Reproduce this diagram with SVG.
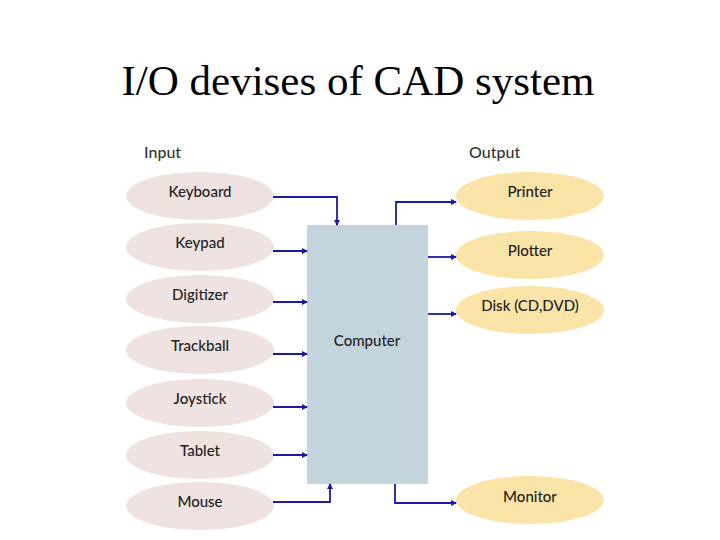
<svg xmlns="http://www.w3.org/2000/svg" width="720" height="540" viewBox="0 0 720 540">
<style>
.t{font-family:"Liberation Serif",serif;font-size:43px;fill:#000}
.l{font-family:"Lato","Liberation Sans",sans-serif;font-size:15px;fill:#222;font-weight:500}
.h{font-family:"Lato","Liberation Sans",sans-serif;font-size:16px;fill:#333;font-weight:500}
.in{fill:#efe3e1}.out{fill:#fbe4a8}
.c{fill:none;stroke:#1a1aa8;stroke-width:1.8;marker-end:url(#a)}
</style>
<defs><marker id="a" markerWidth="6" markerHeight="6" refX="5" refY="3" orient="auto" markerUnits="userSpaceOnUse"><path d="M0,0L6,3L0,6z" fill="#1a1aa8"/></marker></defs>
<rect width="720" height="540" fill="#fff"/>
<text class="t" x="358" y="95" text-anchor="middle">I/O devises of CAD system</text>
<text class="h" x="144" y="158">Input</text>
<text class="h" x="469" y="158">Output</text>
<g id="computer"><rect x="307" y="225" width="121" height="259" fill="#c3d4dc"/><text class="l" x="367" y="346" text-anchor="middle" font-size="16">Computer</text></g>
<g id="keyboard"><ellipse class="in" cx="200" cy="196" rx="74" ry="24"/><text class="l" x="200" y="197" text-anchor="middle">Keyboard</text></g>
<g id="keypad"><ellipse class="in" cx="200" cy="247" rx="74" ry="24"/><text class="l" x="200" y="248" text-anchor="middle">Keypad</text></g>
<g id="digitizer"><ellipse class="in" cx="200" cy="299" rx="74" ry="24"/><text class="l" x="200" y="300" text-anchor="middle">Digitizer</text></g>
<g id="trackball"><ellipse class="in" cx="200" cy="350" rx="74" ry="24"/><text class="l" x="200" y="351" text-anchor="middle">Trackball</text></g>
<g id="joystick"><ellipse class="in" cx="200" cy="403" rx="74" ry="24"/><text class="l" x="200" y="404" text-anchor="middle">Joystick</text></g>
<g id="tablet"><ellipse class="in" cx="200" cy="455" rx="74" ry="24"/><text class="l" x="200" y="456" text-anchor="middle">Tablet</text></g>
<g id="mouse"><ellipse class="in" cx="200" cy="506" rx="74" ry="24"/><text class="l" x="200" y="507" text-anchor="middle">Mouse</text></g>
<g id="printer"><ellipse class="out" cx="530" cy="196" rx="74" ry="24"/><text class="l" x="530" y="197" text-anchor="middle">Printer</text></g>
<g id="plotter"><ellipse class="out" cx="530" cy="255" rx="74" ry="24"/><text class="l" x="530" y="256" text-anchor="middle">Plotter</text></g>
<g id="disk"><ellipse class="out" cx="530" cy="310" rx="74" ry="24"/><text class="l" x="530" y="311" text-anchor="middle">Disk (CD,DVD)</text></g>
<g id="monitor"><ellipse class="out" cx="530" cy="500" rx="74" ry="24"/><text class="l" x="530" y="502" text-anchor="middle">Monitor</text></g>
<g id="connectors">
<path class="c" d="M273,197H337V225"/>
<path class="c" d="M273,251H307"/>
<path class="c" d="M273,302H307"/>
<path class="c" d="M273,354H307"/>
<path class="c" d="M273,407H307"/>
<path class="c" d="M273,455H307"/>
<path class="c" d="M273,502H330V484"/>
<path class="c" d="M396,225V202H456"/>
<path class="c" d="M428,257H456"/>
<path class="c" d="M428,314H456"/>
<path class="c" d="M395,484V503H456"/>
</g>
</svg>
